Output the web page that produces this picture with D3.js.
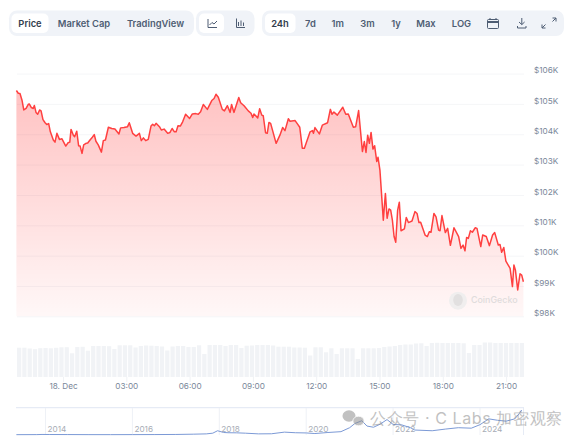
<!DOCTYPE html>
<html><head><meta charset="utf-8">
<script src="https://cdn.jsdelivr.net/npm/d3@7"></script>
<style>html,body{margin:0;padding:0;background:#fff}svg{display:block}text{font-family:Inter,"Noto Sans",sans-serif}</style>
</head><body><svg id="c" width="581" height="443"></svg>
<script>
// hours relative to midnight 18 Dec
const hours=[-2.21,-2.12,-2.04,-1.94,-1.86,-1.75,-1.64,-1.60,-1.50,-1.41,-1.36,-1.28,-1.20,-1.11,-1.04,-0.95,-0.85,-0.77,-0.68,-0.60,-0.46,-0.38,-0.29,-0.17,-0.05,0.13,0.24,0.32,0.38,0.49,0.55,0.65,0.74,0.81,0.90,0.98,1.09,1.17,1.28,1.39,1.48,1.56,1.67,1.82,1.91,2.01,2.15,2.31,2.46,2.65,2.73,2.89,3.06,3.14,3.30,3.46,3.62,3.71,3.81,3.92,4.04,4.17,4.25,4.33,4.41,4.57,4.66,4.79,4.96,5.07,5.17,5.28,5.36,5.45,5.56,5.67,5.81,6.00,6.13,6.29,6.41,6.52,6.65,6.84,7.05,7.16,7.25,7.36,7.55,7.65,7.79,7.92,7.99,8.10,8.33,8.42,8.58,8.78,8.91,8.99,9.05,9.23,9.32,9.42,9.49,9.60,9.68,9.76,9.84,10.10,10.28,10.41,10.52,10.68,10.76,11.00,11.11,11.22,11.34,11.44,11.71,11.82,11.87,11.94,12.15,12.29,12.54,12.67,12.75,12.84,13.00,13.26,13.40,13.52,13.76,13.87,14.01,14.19,14.28,14.36,14.44,14.52,14.60,14.69,14.77,14.87,14.93,15.02,15.18,15.28,15.36,15.45,15.53,15.61,15.69,15.77,15.86,15.94,16.02,16.18,16.27,16.37,16.54,16.68,16.78,16.87,16.95,17.16,17.27,17.36,17.44,17.58,17.68,17.80,17.87,17.96,18.12,18.23,18.36,18.53,18.75,18.86,18.96,19.05,19.13,19.21,19.31,19.40,19.54,19.62,19.80,19.89,20.06,20.21,20.36,20.46,20.63,20.71,20.79,20.89,20.99,21.19,21.30,21.37,21.44,21.55,21.66,21.74,21.82];
// price in thousand USD
const prices=[105.44,105.35,105.34,105.11,104.80,104.85,104.99,105.00,104.88,104.85,104.95,104.72,104.66,104.80,104.77,104.48,104.38,104.32,104.35,104.08,103.81,103.74,104.03,103.83,103.85,103.61,103.72,103.74,104.16,103.97,103.92,104.10,103.62,103.61,103.37,103.65,103.70,103.71,103.81,103.90,103.99,103.77,103.65,103.41,103.79,103.81,104.23,104.19,104.17,104.01,104.21,104.22,104.25,104.38,104.03,103.94,104.03,103.79,103.88,103.79,103.83,104.27,104.33,104.28,104.36,104.25,104.14,104.17,104.03,104.06,104.19,104.08,104.08,104.28,104.27,104.41,104.66,104.52,104.67,104.68,104.66,104.74,104.98,104.82,105.11,105.18,105.32,105.22,104.82,104.77,104.94,104.72,104.98,104.72,105.21,105.04,104.94,104.77,104.69,104.55,104.67,104.54,104.84,104.63,104.61,104.05,104.03,104.39,104.36,103.70,103.97,104.22,104.12,104.51,104.43,104.45,104.34,104.23,103.54,103.54,104.08,104.12,104.03,104.22,104.01,104.30,104.38,104.82,104.66,104.73,104.63,104.89,104.66,104.67,104.23,104.25,104.78,103.43,103.76,103.40,103.97,103.70,104.06,103.51,103.62,103.10,103.24,102.82,101.17,102.05,101.23,101.54,101.50,101.17,100.63,100.44,101.50,101.76,100.82,100.88,101.26,101.09,101.14,101.45,101.39,101.09,101.10,100.68,100.63,100.79,100.77,101.39,101.28,100.84,100.82,101.32,100.76,100.90,100.34,100.92,100.63,100.24,100.35,100.16,100.60,100.57,100.82,100.77,100.92,100.90,100.30,100.68,100.63,100.33,100.68,100.76,100.35,100.37,100.11,100.27,99.82,99.58,98.98,99.69,99.53,98.87,99.40,99.36,99.14];
// 15-minute volume, billions (estimated)
const volumes=[58.6,58.6,57,55.6,57.6,58,57.4,58.4,59.4,59.6,47.4,60,60.4,52.6,62,62,62,61.6,56,63.4,63.4,63.4,59,62,63,62.6,62,61,53,61,62,62,60,60,63.4,46,64,64,64,62,64,64,58,62.6,63,64,64,64,63,60.6,60.6,60.6,59,59,58.6,43,59.4,59.4,49.4,57.4,46,57.4,57.4,57.4,36,57.4,57.4,57.4,58,60,61,62,64,65,65,67,67.4,62,68,68.4,68,68,68,68,67.4,48,64,64,69,69,68,68,68,68,68,68];
const priceTicks=[98,99,100,101,102,103,104,105,106];
const timeTicks=[0,3,6,9,12,15,18,21];
const timeLabels=["18. Dec","03:00","06:00","09:00","12:00","15:00","18:00","21:00"];
const navYears=[2013.33,2013.8,2013.92,2014.1,2014.5,2015,2015.5,2016,2016.5,2017,2017.4,2017.7,2017.85,2017.96,2018.1,2018.2,2018.4,2018.6,2018.9,2019.2,2019.5,2019.75,2020,2020.2,2020.5,2020.8,2021,2021.12,2021.28,2021.4,2021.55,2021.7,2021.86,2022,2022.2,2022.4,2022.5,2022.9,2023.2,2023.5,2023.8,2024,2024.2,2024.4,2024.6,2024.8,2024.9,2024.96];
const navPrices=[0.13,0.4,1.0,0.8,0.6,0.3,0.25,0.4,0.6,1,2.2,3.5,6.5,17,9.5,8.5,8,6.5,3.6,4,11,8.5,7.5,5,9.5,13,30,48,60,37,32,45,65,44,42,30,20,17,24,30,28,43,68,62,58,68,90,106];
const navTicks=[2014,2016,2018,2020,2022,2024];
const tabs=["Price","Market Cap","TradingView","24h","7d","1m","3m","1y","Max","LOG"];

const svg=d3.select("#c");
const x=d3.scaleLinear().domain([-2.2,21.82]).range([16.6,523.4]);
const y=d3.scaleLinear().domain([98,106]).range([316.35,73.55]);
const v=d3.scaleLinear().domain([0,68]).range([377,343]);
const nx=d3.scaleLinear().domain([2014,2024]).range([45.5,480]);
const ny=d3.scaleLinear().domain([0,106]).range([434.7,410]);
const tabX=d3.scaleOrdinal().domain(tabs).range([30,84,155.5,280,310.4,337.8,367.4,396,426,461.5]);

// toolbar
const tb=svg.append("g");
const rect=(a,b,c,d,f,r)=>tb.append("rect").attr("x",a).attr("y",b).attr("width",c-a).attr("height",d-b).attr("rx",r).attr("fill",f);
rect(9,10.5,194,36,"#f0f3f8",8);rect(196,10.5,254.5,36,"#f0f3f8",8);rect(262,10.5,564,36,"#f0f3f8",8);
rect(11.5,13.5,48.5,33,"#fff",5);rect(199,13.5,224,33,"#fff",5);rect(265,13.5,295.5,33,"#fff",5);
tabs.forEach(t=>tb.append("text").attr("x",tabX(t)).attr("y",26.6).attr("text-anchor","middle")
  .attr("font-size",9.4).attr("font-weight",600).attr("fill",(t==="Price"||t==="24h")?"#333d4d":"#4e5d73").text(t));
const ic=(dx,d,sw=1,fill="none")=>tb.append("path").attr("transform",`translate(${dx},1)`).attr("d",d).attr("fill",fill).attr("stroke",fill==="none"?"#4e5d73":"none").attr("stroke-width",sw);
ic(22,"M186 18V26.5H195 M187.5 24L190 21.5L192 23L195 20");
ic(25,"M211.5 17.5V26.5H220 M213.5 25V21 M216 25V19.5 M218.5 25V21.5");
ic(49,"M439.5 18.5h9a1 1 0 0 1 1 1v7a1 1 0 0 1-1 1h-9a1 1 0 0 1-1-1v-7a1 1 0 0 1 1-1z M441 17v2 M447 17v2");
ic(49,"M439 20h10v2h-10z",0,"#4e5d73");
ic(52.5,"M469.3 17v6.5 M466.5 21l2.8 2.6l2.8-2.6 M465 25v2h8.5v-2");
ic(55,"M497.5 17h3.5v3.5 M501 17l-3.5 3.5 M490.5 27h-3.5v-3.5 M487 27l3.5-3.5",1);

// grid and price axis
const yAxis=d3.axisRight(y).tickValues(priceTicks).tickSize(507).tickFormat(d=>"$"+d+"K");
const gy=svg.append("g").attr("transform","translate(17,0)").call(yAxis);
gy.select(".domain").remove();
gy.selectAll("line").attr("stroke","#f5f6f8");
gy.selectAll("text").attr("x",517).attr("dy",-0.9).attr("font-size",8.2).attr("font-family","Inter").attr("fill","#7a8799");

// area and line
const defs=svg.append("defs");
const gr=defs.append("linearGradient").attr("id","fade").attr("gradientUnits","userSpaceOnUse").attr("x1",0).attr("x2",0).attr("y1",90).attr("y2",316);
gr.append("stop").attr("offset",0).attr("stop-color","#ff0000").attr("stop-opacity",0.24);
gr.append("stop").attr("offset",1).attr("stop-color","#ff0000").attr("stop-opacity",0.03);
const pts=hours.map((h,i)=>[h,prices[i]]);
svg.append("path").datum(pts).attr("fill","url(#fade)").attr("d",d3.area().x(d=>x(d[0])).y0(y(98)).y1(d=>y(d[1])));
svg.append("path").datum(pts).attr("fill","none").attr("stroke","#ff4040").attr("stroke-width",1.5).attr("stroke-linejoin","round")
  .attr("d",d3.line().x(d=>x(d[0])).y(d=>y(d[1])));

// CoinGecko mark
const cg=svg.append("g");
cg.append("circle").attr("cx",458).attr("cy",300.7).attr("r",9).attr("fill","#f0eeee");
cg.append("ellipse").attr("cx",458).attr("cy",300).attr("rx",4.8).attr("ry",6).attr("fill","#e2e0e0");
cg.append("text").attr("x",471).attr("y",303.2).attr("font-size",8.9).attr("font-weight",500).attr("fill","#e0dcdc").text("CoinGecko");

// volume
const band=d3.scaleBand().domain(d3.range(volumes.length)).range([17,524]).paddingInner(0.2);
svg.append("g").selectAll("rect").data(volumes).join("rect")
  .attr("x",(d,i)=>band(i)).attr("width",band.bandwidth()).attr("y",d=>v(d)).attr("height",d=>v(0)-v(d)).attr("fill","#f1f3f6");

// time axis
const xAxis=d3.axisBottom(x).tickValues(timeTicks).tickSize(5).tickFormat((d,i)=>timeLabels[i]);
const gx=svg.append("g").attr("transform","translate(0,377)").call(xAxis);
gx.select(".domain").remove();
gx.selectAll("line").attr("stroke","#f0f2f5");
gx.selectAll("text").attr("y",6).attr("dy","0.71em").attr("font-size",8.2).attr("font-family","Inter").attr("fill","#7a8799");

// navigator
const nav=svg.append("g");
nav.append("line").attr("x1",16).attr("x2",524).attr("y1",407.7).attr("y2",407.7).attr("stroke","#e6ebf5").attr("stroke-width",1.2);
nav.append("line").attr("x1",523.5).attr("x2",523.5).attr("y1",408).attr("y2",435).attr("stroke","#e6ebf5");
nav.selectAll("line.t").data(navTicks).join("line").attr("class","t").attr("x1",nx).attr("x2",nx).attr("y1",408).attr("y2",435).attr("stroke","#eef1f6");
nav.selectAll("text").data(navTicks).join("text").attr("x",d=>nx(d)+2).attr("y",432).attr("font-size",8.2).attr("fill","#a8adb6").text(d=>d);
nav.append("path").datum(navYears.map((n,i)=>[n,navPrices[i]])).attr("fill","none").attr("stroke","#7c9ad6").attr("stroke-width",1)
  .attr("d",d3.line().x(d=>nx(d[0])).y(d=>ny(d[1])));

// publisher watermark
const wm=svg.append("g").attr("opacity",.55);
wm.append("ellipse").attr("cx",349).attr("cy",416).attr("rx",6.5).attr("ry",5.8).attr("fill","#8f8f8f");
wm.append("ellipse").attr("cx",358.5).attr("cy",421).attr("rx",5.6).attr("ry",4.8).attr("fill","#8f8f8f").attr("stroke","#fff").attr("stroke-width",.8);
wm.append("text").attr("x",370).attr("y",424).attr("font-size",16).attr("letter-spacing",.6).attr("font-family","'Noto Sans CJK SC'").attr("fill","#8f8f8f").text("公众号 · C Labs 加密观察");
</script></body></html>
